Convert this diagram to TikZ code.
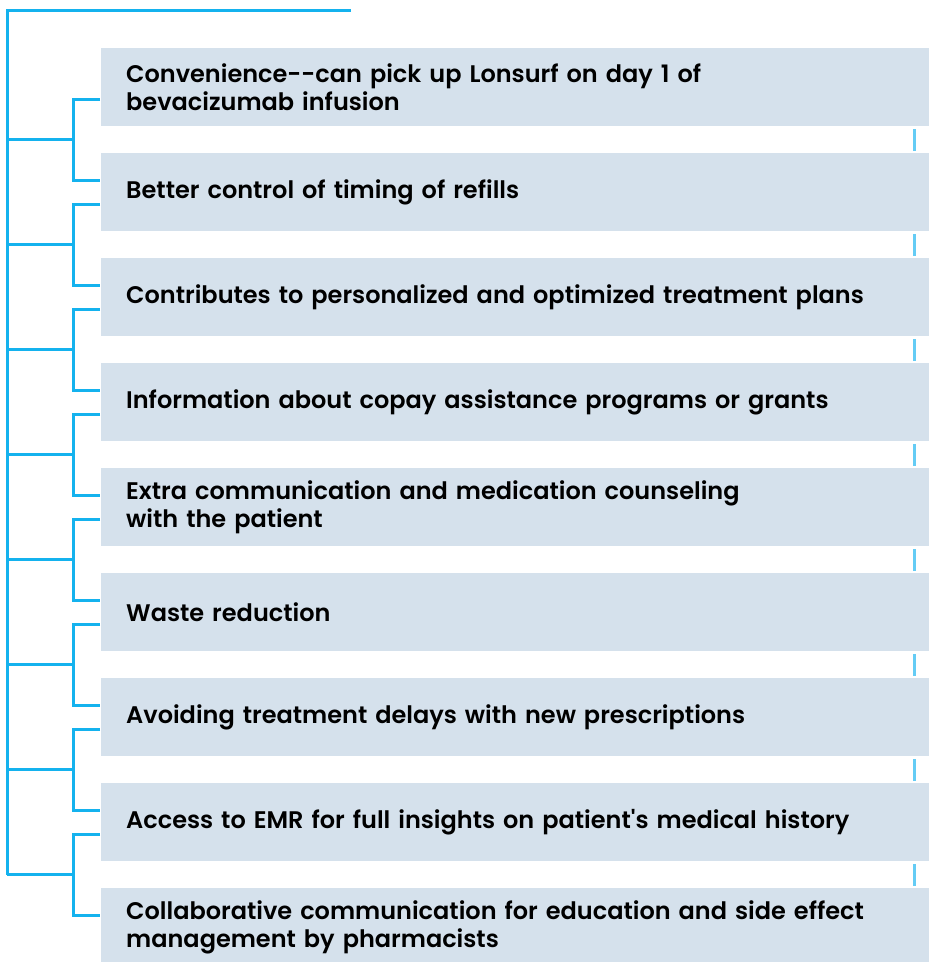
\documentclass[tikz,border=0pt]{standalone}
\usepackage{fontspec}
\setmainfont{Poppins}[BoldFont={Poppins SemiBold}]
\usetikzlibrary{calc}
\begin{document}
\begin{tikzpicture}[x=1pt,y=1pt,
  link/.style={draw=linkblue,line width=3pt},
  sep/.style={draw=sepblue,line width=2.6pt},
  item/.style={fill=boxfill,draw=none,anchor=north west,inner xsep=25pt,inner ysep=0pt,
    minimum width=829pt,minimum height=78pt,text width=779pt,align=left,
    font=\fontsize{24}{28}\selectfont\bfseries}]
\definecolor{linkblue}{RGB}{20,178,238}
\definecolor{sepblue}{RGB}{100,204,245}
\definecolor{boxfill}{RGB}{213,225,236}
\useasboundingbox (0,0) rectangle (929,-962);
\clip (0,0) rectangle (929,-962);

% list items
\node[item] (b1) at (101,-48)  {Convenience-{}-can pick up Lonsurf on day 1 of\\bevacizumab infusion};
\node[item] (b2) at (101,-153) {Better control of timing of refills};
\node[item] (b3) at (101,-258) {Contributes to personalized and optimized treatment plans};
\node[item] (b4) at (101,-363) {Information about copay assistance programs or grants};
\node[item] (b5) at (101,-468) {Extra communication and medication counseling\\with the patient};
\node[item] (b6) at (101,-573) {Waste reduction};
\node[item] (b7) at (101,-678) {Avoiding treatment delays with new prescriptions};
\node[item] (b8) at (101,-783) {Access to EMR for full insights on patient\textquotesingle s medical history};
\node[item] (b9) at (101,-888) {Collaborative communication for education and side effect\\management by pharmacists};

% trunk
\coordinate (top) at (351,-10);
\coordinate (corner) at (7,-10);

% brackets joining consecutive items, hooked onto the trunk
\foreach \a/\b in {1/2,2/3,3/4,4/5,5/6,6/7,7/8,8/9}{
  \coordinate (u\a) at ([xshift=-1pt,yshift=-51pt]b\a.north west);
  \coordinate (l\a) at ([xshift=-1pt,yshift=-27pt]b\b.north west);
  \draw[link,line join=miter] (u\a) -- ++(-27,0) |- (l\a);
  \coordinate (j\a) at ($(u\a)!0.5!(l\a)$);
}
\foreach \a in {1,...,8}{
  \draw[link] ([xshift=-27pt]j\a) -- (corner |- j\a);
}
\draw[link,line join=miter] (top) -- (corner) -- (corner |- j8);

% separators on the right between items
\foreach \a/\b in {1/2,2/3,3/4,4/5,5/6,6/7,7/8,8/9}{
  \draw[sep] ([xshift=-16pt,yshift=-3pt]b\a.south east) -- ([xshift=-16pt,yshift=2pt]b\b.north east);
}
\end{tikzpicture}
\end{document}
